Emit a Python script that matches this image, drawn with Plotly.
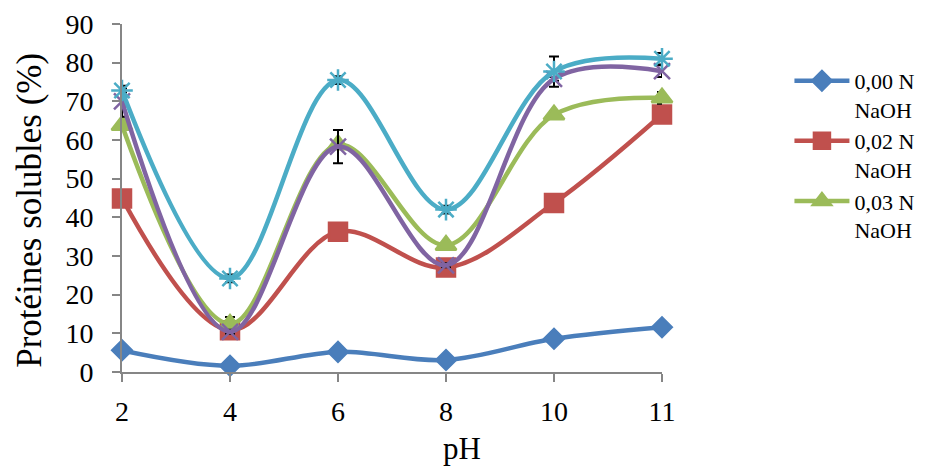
import plotly.graph_objects as go

ph = ["2", "4", "6", "8", "10", "11"]

naoh_000 = [5.6, 1.6, 5.2, 3.1, 8.6, 11.6]
naoh_002 = [44.9, 10.8, 36.3, 27.0, 43.7, 66.6]
naoh_003 = [63.8, 12.4, 58.8, 32.8, 66.5, 70.9]
serie_4 = [70.0, 10.4, 58.3, 27.6, 75.8, 77.8]
serie_5 = [72.8, 24.2, 75.5, 42.0, 77.7, 81.0]

err_000 = [0, 0, 0, 0, 0, 0]
err_002 = [0, 0, 0, 0, 0, 0]
err_003 = [0, 1.8, 0, 0, 1.0, 1.5]
err_4 = [4.0, 0.5, 4.3, 0.5, 0.5, 1.5]
err_5 = [0.5, 1.0, 1.0, 1.0, 3.9, 1.5]

names = ["0,00 N<br>NaOH", "0,02 N<br>NaOH", "0,03 N<br>NaOH", "Série 4", "Série 5"]
series = [naoh_000, naoh_002, naoh_003, serie_4, serie_5]
errors = [err_000, err_002, err_003, err_4, err_5]
colors = ["#4A7EBB", "#C0504D", "#9BBB59", "#8064A2", "#4BACC6"]
symbols = ["diamond", "square", "triangle-up", "x-thin-open", "asterisk-open"]
sizes = [15, 18, 18, 16, 18]
in_legend = [True, True, True, False, False]

x_title = "pH"
y_title = "Protéines solubles (%)"

fig = go.Figure()
for name, ys, err, col, sym, sz, leg in zip(names, series, errors, colors, symbols, sizes, in_legend):
    fig.add_trace(go.Scatter(
        x=ph, y=ys, name=name, mode="lines+markers",
        line=dict(color=col, width=4.5, shape="spline", smoothing=1.0),
        marker=dict(symbol=sym, size=sz, color=col, line=dict(color=col, width=2.5)),
        error_y=dict(type="data", array=err, visible=any(e > 0 for e in err),
                     color="black", thickness=2, width=5),
        showlegend=leg, cliponaxis=False,
    ))

font_family = "Liberation Serif"
axis_gray = "#868686"

# page body has an 8px margin, so the figure is 8px smaller than the window
fig.update_layout(
    width=918, height=460,
    margin=dict(l=114, r=264, t=16, b=96, autoexpand=False),
    paper_bgcolor="white", plot_bgcolor="white",
    font=dict(family=font_family, color="black", size=24),
    legend=dict(
        x=1.236, y=0.897, xanchor="left", yanchor="top",
        font=dict(family=font_family, size=22, color="black"),
        valign="top", tracegroupgap=0, itemwidth=55,
        bgcolor="rgba(0,0,0,0)",
    ),
    xaxis=dict(
        type="category", range=[0, 5], automargin=False,
        showgrid=False, zeroline=False,
        showline=True, linecolor=axis_gray, linewidth=2,
        ticks="outside", ticklen=8, tickwidth=2, tickcolor=axis_gray,
        ticklabelstandoff=5,
        tickfont=dict(family=font_family, size=28, color="black"),
    ),
    yaxis=dict(
        range=[0, 90], dtick=10, automargin=False,
        showgrid=False, zeroline=False,
        showline=True, linecolor=axis_gray, linewidth=2,
        ticks="outside", ticklen=8, tickwidth=2, tickcolor=axis_gray,
        ticklabelstandoff=13,
        tickfont=dict(family=font_family, size=28, color="black"),
    ),
    annotations=[
        dict(text=x_title, xref="paper", yref="paper", x=0.63, y=-0.221,
             xanchor="center", yanchor="middle", showarrow=False, borderpad=0,
             font=dict(family=font_family, size=31, color="black")),
        dict(text=y_title, xref="paper", yref="paper", x=-0.1704, y=0.466,
             xanchor="center", yanchor="middle", textangle=-90, showarrow=False, borderpad=0,
             font=dict(family=font_family, size=35, color="black")),
    ],
)

fig.write_html("out.html")
